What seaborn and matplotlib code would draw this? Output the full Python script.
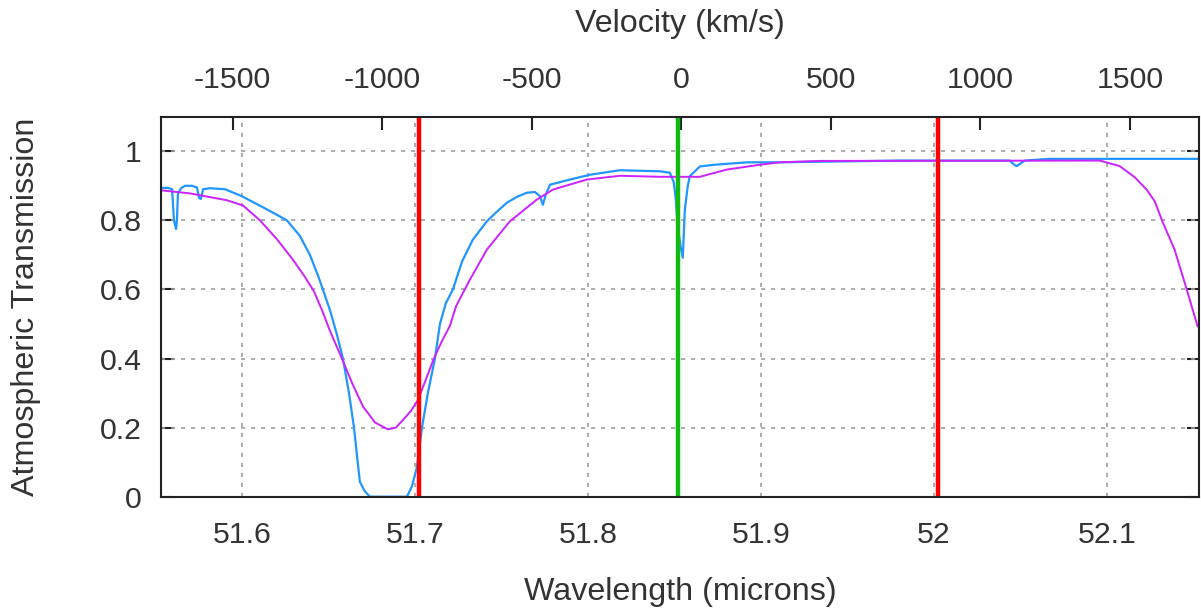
import numpy as np
import pandas as pd
import matplotlib
matplotlib.use("Agg")
import matplotlib.pyplot as plt
import seaborn as sns

# Model atmospheric transmission (full resolution)
wave_model = [51.5530, 51.5570, 51.5594, 51.5605, 51.5617, 51.5622, 51.5628, 51.5646,
              51.5669, 51.5709, 51.5738, 51.5750, 51.5761, 51.5773, 51.5813, 51.5900,
              51.5992, 51.6073, 51.6160, 51.6258, 51.6333, 51.6391, 51.6438, 51.6466,
              51.6507, 51.6547, 51.6582, 51.6617, 51.6646, 51.6663, 51.6680, 51.6709,
              51.6738, 51.6952, 51.6981, 51.7010, 51.7039, 51.7073, 51.7114, 51.7143,
              51.7177, 51.7218, 51.7270, 51.7333, 51.7414, 51.7472, 51.7530, 51.7588,
              51.7646, 51.7692, 51.7721, 51.7738, 51.7755, 51.7779, 51.7894, 51.8010,
              51.8183, 51.8414, 51.8472, 51.8495, 51.8507, 51.8518, 51.8536, 51.8547,
              51.8553, 51.8559, 51.8576, 51.8588, 51.8646, 51.8732, 51.8923, 51.9108,
              51.9802, 52.0437, 52.0461, 52.0478, 52.0501, 52.0524, 52.0669, 52.1530]
trans_model = [0.894, 0.894, 0.890, 0.800, 0.775, 0.800, 0.877, 0.893,
               0.900, 0.900, 0.895, 0.865, 0.862, 0.890, 0.893, 0.890,
               0.871, 0.850, 0.827, 0.800, 0.755, 0.700, 0.640, 0.600,
               0.540, 0.470, 0.400, 0.300, 0.200, 0.120, 0.043, 0.015,
               0.000, 0.000, 0.030, 0.086, 0.200, 0.300, 0.400, 0.500,
               0.560, 0.600, 0.680, 0.744, 0.797, 0.825, 0.851, 0.868,
               0.880, 0.882, 0.870, 0.845, 0.875, 0.903, 0.918, 0.932,
               0.945, 0.942, 0.938, 0.910, 0.860, 0.779, 0.720, 0.692,
               0.760, 0.831, 0.900, 0.928, 0.956, 0.961, 0.968, 0.968,
               0.973, 0.973, 0.962, 0.957, 0.965, 0.973, 0.978, 0.978]

# Transmission convolved to instrument resolution
wave_smooth = [51.5530, 51.5698, 51.5912, 51.6004, 51.6102, 51.6201, 51.6293, 51.6357,
               51.6414, 51.6461, 51.6507, 51.6576, 51.6634, 51.6698, 51.6767, 51.6842,
               51.6888, 51.6929, 51.6975, 51.7016, 51.7062, 51.7108, 51.7154, 51.7201,
               51.7235, 51.7276, 51.7316, 51.7414, 51.7547, 51.7703, 51.7796, 51.7992,
               51.8183, 51.8414, 51.8646, 51.8802, 51.8994, 51.9108, 51.9339, 52.0958,
               52.1073, 52.1160, 52.1229, 52.1276, 52.1322, 52.1391, 52.1461, 52.1524]
trans_smooth = [0.887, 0.878, 0.858, 0.843, 0.800, 0.745, 0.686, 0.640,
                0.595, 0.540, 0.480, 0.400, 0.330, 0.261, 0.215, 0.195,
                0.200, 0.222, 0.248, 0.280, 0.340, 0.400, 0.450, 0.495,
                0.550, 0.590, 0.628, 0.715, 0.797, 0.860, 0.889, 0.918,
                0.929, 0.926, 0.926, 0.947, 0.961, 0.968, 0.972, 0.973,
                0.957, 0.925, 0.889, 0.855, 0.795, 0.715, 0.600, 0.493]

line_center = 51.8520            # rest wavelength of the line
band_edges = [51.7021, 52.0023]  # edges of the observed band
velocity_ref = 51.8538           # reference wavelength for velocity axis
C_KMS = 299792.458

wave_ticks = [51.6, 51.7, 51.8, 51.9, 52.0, 52.1]
wave_labels = ["51.6", "51.7", "51.8", "51.9", "52", "52.1"]
vel_ticks = [-1500, -1000, -500, 0, 500, 1000, 1500]
y_ticks = [0, 0.2, 0.4, 0.6, 0.8, 1.0]
y_labels = ["0", "0.2", "0.4", "0.6", "0.8", "1"]

sns.set_theme(style="white")
plt.rcParams["font.family"] = ["Liberation Sans", "DejaVu Sans"]

TICK_FS = 21.8
LABEL_FS = 23.2
TEXT_COLOR = "#333333"

fig = plt.figure(figsize=(12.01, 6.09), dpi=100)
ax = fig.add_axes([161 / 1201, 1 - 496.7 / 609, (1199 - 161) / 1201, (496.7 - 116.7) / 609])

df_model = pd.DataFrame({"wave": wave_model, "trans": trans_model})
df_smooth = pd.DataFrame({"wave": wave_smooth, "trans": trans_smooth})

sns.lineplot(data=df_model, x="wave", y="trans", ax=ax, color="#2196ff",
             linewidth=1.6, estimator=None, sort=False, zorder=3)
sns.lineplot(data=df_smooth, x="wave", y="trans", ax=ax, color="#cc22ff",
             linewidth=1.4, estimator=None, sort=False, zorder=4)

for w in band_edges:
    ax.axvline(w, color="#ff0000", linewidth=3.2, zorder=5)
ax.axvline(line_center, color="#11bb11", linewidth=3.2, zorder=5)

ax.set_xlim(51.5530, 52.1532)
ax.set_ylim(0, 1.1)

grid_kw = dict(color="#a0a0a0", linewidth=1.2, linestyle=(0, (2.5, 3.5)), zorder=1)
for w in wave_ticks:
    ax.axvline(w, **grid_kw)
for yv in y_ticks[1:]:
    ax.axhline(yv, **grid_kw)

ax.set_xticks(wave_ticks)
ax.set_xticklabels(wave_labels)
ax.set_yticks(y_ticks)
ax.set_yticklabels(y_labels)
ax.tick_params(axis="both", direction="in", length=9, width=1.5, colors="#222222",
               labelsize=TICK_FS, labelcolor=TEXT_COLOR)
ax.tick_params(axis="x", pad=17.5)
ax.tick_params(axis="y", pad=14, right=True, left=True, labelright=False)

for sp in ax.spines.values():
    sp.set_color("#222222")
    sp.set_linewidth(1.5)
    sp.set_zorder(6)


def lam_to_vel(lam):
    return C_KMS * (np.asarray(lam) / velocity_ref - 1.0)


def vel_to_lam(v):
    return velocity_ref * (1.0 + np.asarray(v) / C_KMS)


top = ax.secondary_xaxis("top", functions=(lam_to_vel, vel_to_lam))
top.set_xticks(vel_ticks)
top.set_xticklabels([str(v) for v in vel_ticks])
top.tick_params(direction="in", length=9, width=1.5, colors="#222222",
                labelsize=TICK_FS, labelcolor=TEXT_COLOR, pad=16)
top.set_xlabel("Velocity (km/s)", fontsize=LABEL_FS, color=TEXT_COLOR, labelpad=25)

ax.set_xlabel("Wavelength (microns)", fontsize=LABEL_FS, color=TEXT_COLOR, labelpad=20)
ax.set_ylabel("Atmospheric Transmission", fontsize=LABEL_FS, color=TEXT_COLOR, labelpad=42)

fig.savefig("out.png", dpi=100)
